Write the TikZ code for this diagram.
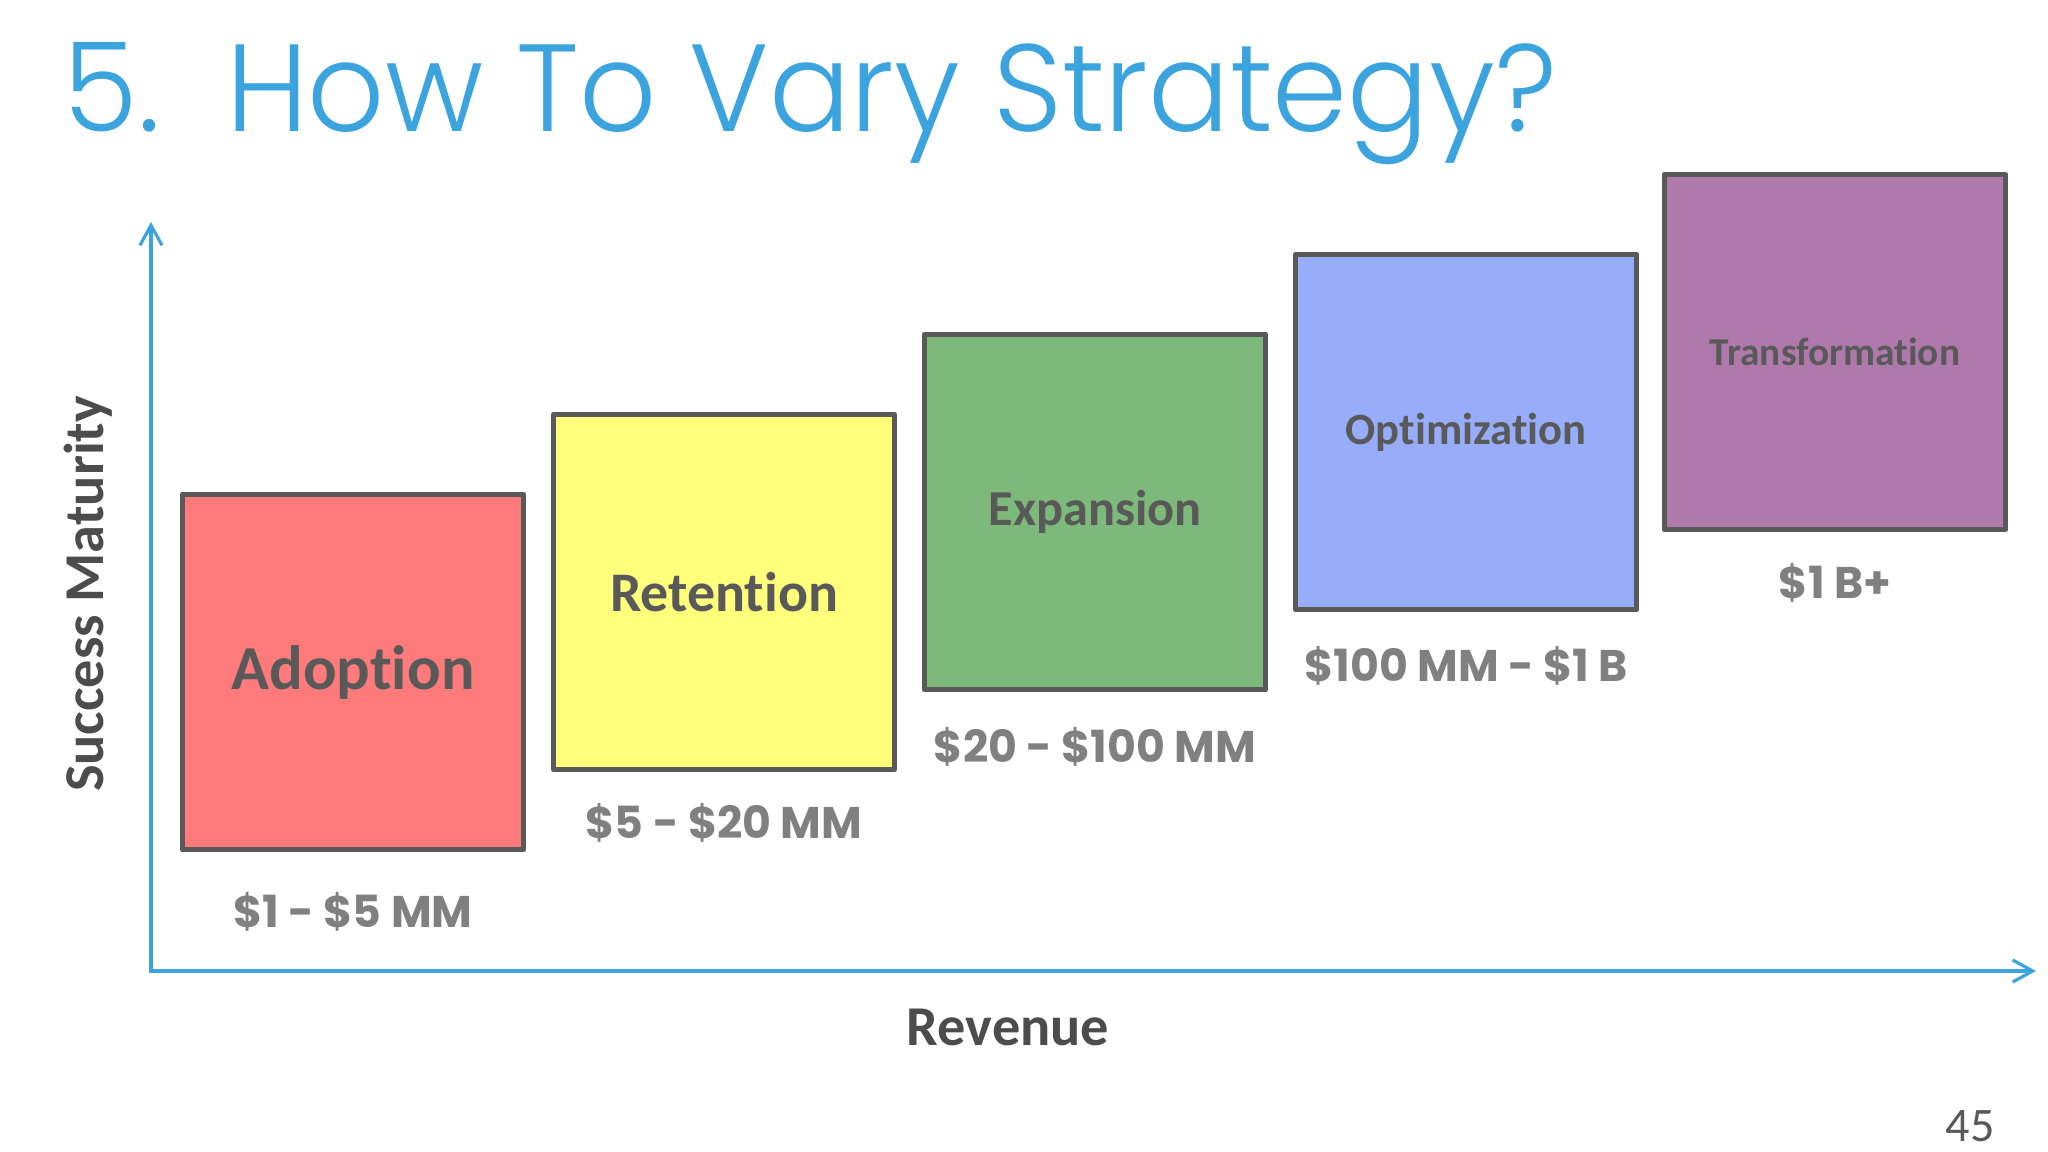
\documentclass[tikz,border=0pt]{standalone}
\usepackage{fontspec}
\usepackage{xcolor}
\usepackage{tikz}
\usetikzlibrary{arrows.meta, positioning}
\setmainfont{Carlito}[Ligatures=NoCommon]
\newfontfamily\geofont{Poppins}
\newfontfamily\geolight{Poppins}[UprightFont=* Light]
\definecolor{axisblue}{RGB}{59,164,222}
\definecolor{edgegrey}{RGB}{89,89,89}
\definecolor{rangegrey}{RGB}{128,128,128}
\definecolor{adoptcolor}{RGB}{255,123,123}
\definecolor{retaincolor}{RGB}{255,255,124}
\definecolor{expandcolor}{RGB}{124,185,122}
\definecolor{optimcolor}{RGB}{151,173,250}
\definecolor{transcolor}{RGB}{176,121,172}

\begin{document}
\begin{tikzpicture}[
    x=0.01cm, y=-0.01cm,
    stage/.style={draw=edgegrey, line width=1.4pt, line join=round, minimum width=3.41cm, minimum height=3.55cm, inner sep=0pt, text=edgegrey, font=\bfseries},
    revrange/.style={text=rangegrey, inner sep=0pt, font=\geofont\bfseries\fontsize{12.6}{14}\selectfont},
    axis/.style={{Straight Barb[length=2mm, width=2.2mm]}-{Straight Barb[length=2mm, width=2.2mm]}, draw=axisblue, line width=0.9pt},
    axislabel/.style={text=black!70, inner sep=0pt, font=\bfseries\fontsize{16}{18}\selectfont}
]
    \useasboundingbox[fill=white] (0,0) rectangle (2048,1152);

    % title
    \node[anchor=base west, inner sep=0pt, text=axisblue] (title) at (63,132)
        {\resizebox{14.92cm}{0.89cm}{\geolight 5.\ \ How To Vary Strategy?}};

    % axes
    \coordinate (origin) at (151,971);
    \coordinate (ytop) at (151,222);
    \coordinate (xend) at (2036,971);
    \draw[axis] (ytop) -- (origin) -- (xend);
    \node[axislabel, rotate=90] (ylab) at (88,594) {Success Maturity};
    \node[axislabel] (xlab) at (1008,1027) {Revenue};

    % stages
    \node[stage, fill=adoptcolor, font=\bfseries\fontsize{17.8}{20}\selectfont] (s1) at (353,672) {Adoption};
    \node[stage, fill=retaincolor, font=\bfseries\fontsize{15.9}{18}\selectfont] (s2) at (724,592) {Retention};
    \node[stage, fill=expandcolor, font=\bfseries\fontsize{14.3}{16}\selectfont] (s3) at (1095,512) {Expansion};
    \node[stage, fill=optimcolor, font=\bfseries\fontsize{12.7}{15}\selectfont] (s4) at (1466,432) {Optimization};
    \node[stage, fill=transcolor, font=\bfseries\fontsize{11.2}{13}\selectfont] (s5) at (1835,352) {Transformation};

    % revenue ranges
    \node[revrange] (r1) at (353,912) {\$1 - \$5 MM};
    \node[revrange] (r2) at (724,823) {\$5 - \$20 MM};
    \node[revrange] (r3) at (1095,747) {\$20 - \$100 MM};
    \node[revrange] (r4) at (1466,666) {\$100 MM - \$1 B};
    \node[revrange] (r5) at (1835,583) {\$1 B+};

    % page number
    \node[text=edgegrey, inner sep=0pt, font=\fontsize{13.7}{16}\selectfont] (page) at (1970,1126) {45};
\end{tikzpicture}
\end{document}
